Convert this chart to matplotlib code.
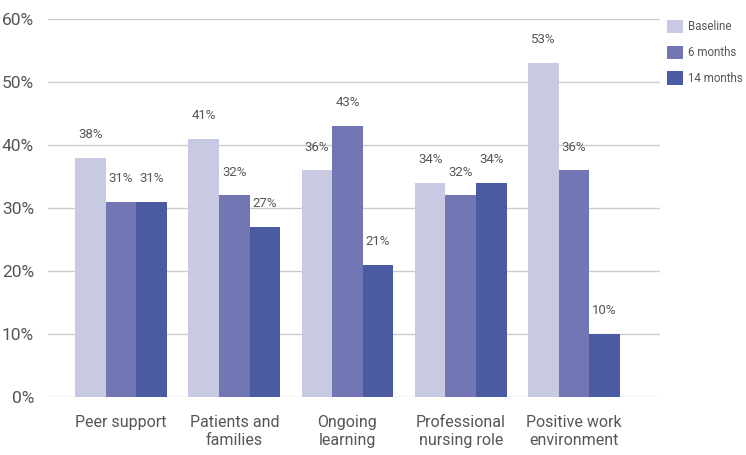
import numpy as np
import matplotlib
matplotlib.use("Agg")
import matplotlib.pyplot as plt
from matplotlib import font_manager

# pick a narrow face if one is around
names = {f.name for f in font_manager.fontManager.ttflist}
family = ['Liberation Sans Narrow'] if 'Liberation Sans Narrow' in names else ['Roboto']
plt.rcParams['font.family'] = family + ['DejaVu Sans']

categories = ['Peer support', 'Patients and\nfamilies', 'Ongoing\nlearning',
              'Professional\nnursing role', 'Positive work\nenvironment']
baseline = [38, 41, 36, 34, 53]
six_months = [31, 32, 43, 32, 36]
fourteen_months = [31, 27, 21, 34, 10]
series_names = ['Baseline', '6 months', '14 months']
colors = ['#C8C9E3', '#7376B4', '#4B5BA1']
yticks = [0, 10, 20, 30, 40, 50, 60]

text_color = '#555555'

fig = plt.figure(figsize=(7.46, 4.55), dpi=100)
ax = fig.add_axes([48 / 746, 1 - 397 / 455, (660 - 48) / 746, (397 - 19) / 455])

x = np.arange(len(categories))
width = 0.27
for i, (vals, name, c) in enumerate(zip([baseline, six_months, fourteen_months], series_names, colors)):
    pos = x + (i - 1) * width
    bars = ax.bar(pos, vals, width, color=c, label=name, zorder=3)
    for b, v in zip(bars, vals):
        ax.annotate(f'{v}%', (b.get_x() + b.get_width() / 2, v), xytext=(0, 12),
                    textcoords='offset points', ha='center', va='bottom',
                    fontsize=9.5, color=text_color)

ax.set_xlim(-0.645, 4.76)
ax.set_ylim(0, 60)
ax.set_yticks(yticks)
ax.set_yticklabels([f'{t}%' for t in yticks])
ax.set_xticks(x)
ax.set_xticklabels(categories, linespacing=1.25)
ax.tick_params(axis='y', length=0, labelsize=12.5, labelcolor=text_color, pad=10)
ax.tick_params(axis='x', length=0, labelsize=11.5, labelcolor=text_color, pad=13)
ax.grid(axis='y', color='#CCCCCC', linewidth=1, zorder=0)
for s in ax.spines.values():
    s.set_visible(False)

fig.legend(loc='upper left', bbox_to_anchor=(667 / 746, 1 - 20 / 455),
           frameon=False, fontsize=8.3, handlelength=1.4, handleheight=1.4,
           handletextpad=0.4, labelspacing=1.05, labelcolor=text_color,
           borderaxespad=0, borderpad=0)

fig.savefig('out.png', dpi=100)
